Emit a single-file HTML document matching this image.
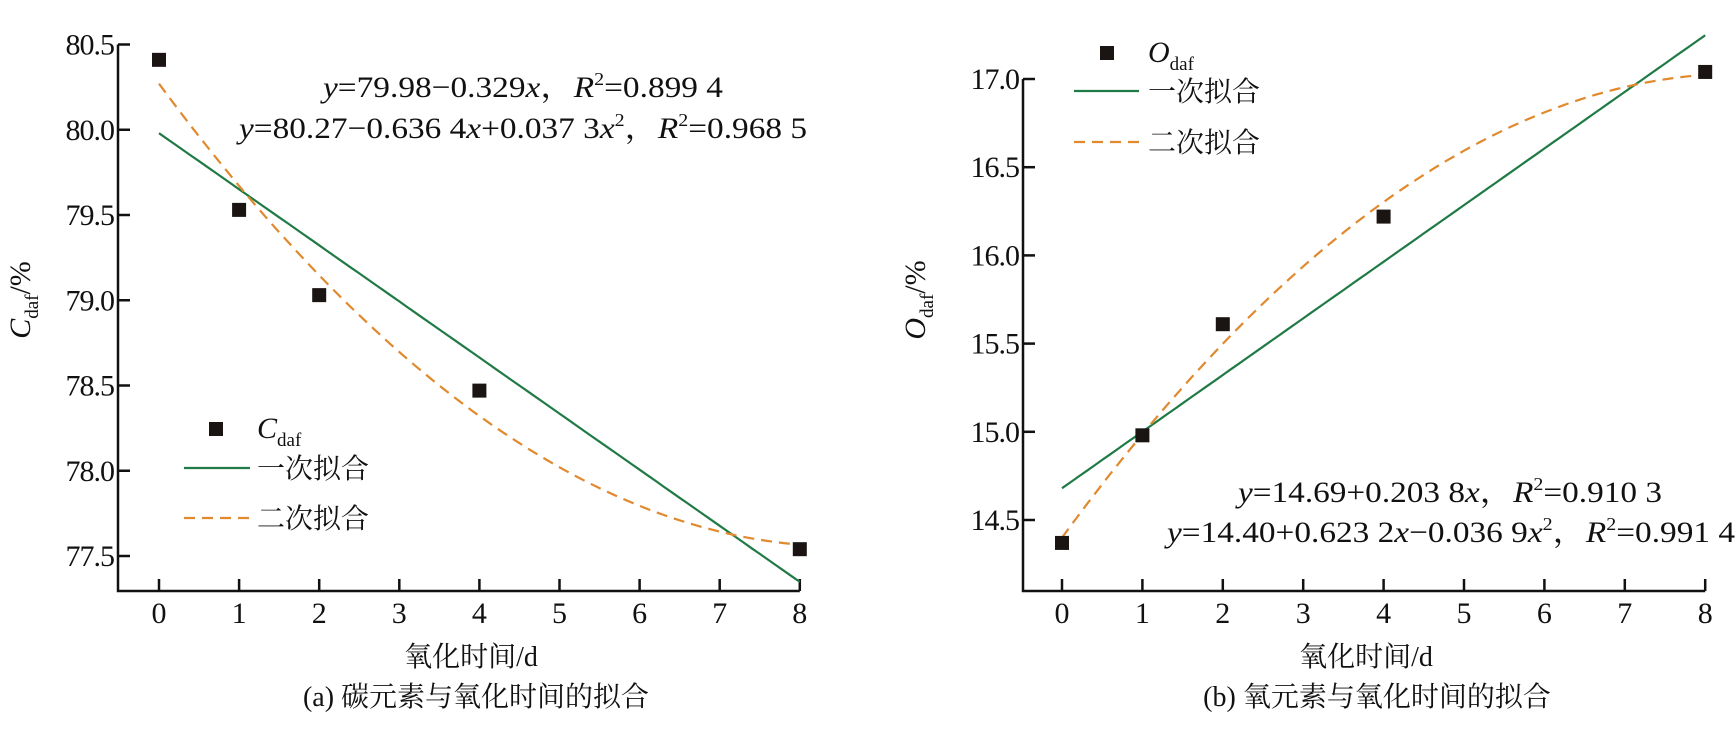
<!DOCTYPE html>
<html><head><meta charset="utf-8"><style>
html,body{margin:0;padding:0;background:#fff;}
svg{display:block;font-family:"Liberation Serif","Noto Serif CJK SC",serif;}
</style></head><body>
<svg id="fig" width="1736" height="741" viewBox="0 0 1736 741" xmlns="http://www.w3.org/2000/svg">
</svg>
<script>
const daysA = [0, 1, 2, 4, 8];
const carbonValues = [80.41, 79.53, 79.03, 78.47, 77.54];
const oxygenValues = [14.37, 14.98, 15.61, 16.22, 17.04];
const carbonLinear = [79.98, -0.329];
const carbonQuad = [80.27, -0.6364, 0.0373];
const oxygenLinear = [14.68, 0.321];
const oxygenQuad = [14.40, 0.6232, -0.0369];
const xTicks = [0, 1, 2, 3, 4, 5, 6, 7, 8];
const carbonYTicks = [77.5, 78.0, 78.5, 79.0, 79.5, 80.0, 80.5];
const oxygenYTicks = [14.5, 15.0, 15.5, 16.0, 16.5, 17.0];

const NS = "http://www.w3.org/2000/svg";
const svg = document.getElementById('fig');
function mk(tag, attrs, parent) {
  const e = document.createElementNS(NS, tag);
  for (const k in attrs) e.setAttribute(k, attrs[k]);
  (parent || svg).appendChild(e);
  return e;
}
const GREEN = '#1f7a45', ORANGE = '#e0892e';

function panel(cfg) {
  const g = mk('g', {});
  
  
  const sx = v => cfg.x0 + v * cfg.xu;
  const sy = v => cfg.yTop + (cfg.yMax - v) / 0.5 * cfg.ystep;
  const ax = mk('path', {d: `M${cfg.axX},${sy(cfg.yMax)} V${cfg.axY} H${sx(8)}`, fill: 'none', stroke: '#111', 'stroke-width': 2.5}, g);
  
  
  cfg.yTicks.forEach(t => {
    const y = sy(t);
    const tl = mk('line', {x1: cfg.axX, x2: cfg.axX + 12, y1: y, y2: y, stroke: '#111', 'stroke-width': 2.5}, g);
    
    
    const tx = mk('text', {x: cfg.axX - 4, y: y + 10, 'font-size': 30, 'text-anchor': 'end', fill: '#111', 'letter-spacing': '-1'}, g);
    tx.textContent = t.toFixed(1);
    
    
  });
  xTicks.forEach(t => {
    const x = sx(t);
    const tl = mk('line', {x1: x, x2: x, y1: cfg.axY, y2: cfg.axY - 12, stroke: '#111', 'stroke-width': 2.5}, g);
    
    
    const tx = mk('text', {x: x, y: cfg.axY + 32, 'font-size': 30, 'text-anchor': 'middle', fill: '#111'}, g);
    tx.textContent = String(t);
    
    
  });
  let dl = '', dq = '';
  for (let i = 0; i <= 80; i++) {
    const v = i / 10;
    dl += (i ? 'L' : 'M') + sx(v).toFixed(1) + ',' + sy(cfg.lin[0] + cfg.lin[1] * v).toFixed(1);
    dq += (i ? 'L' : 'M') + sx(v).toFixed(1) + ',' + sy(cfg.quad[0] + cfg.quad[1] * v + cfg.quad[2] * v * v).toFixed(1);
  }
  const pl = mk('path', {d: dl, fill: 'none', stroke: GREEN, 'stroke-width': 2.2}, g);
  
  
  const pq = mk('path', {d: dq, fill: 'none', stroke: ORANGE, 'stroke-width': 2.2, 'stroke-dasharray': '11 7'}, g);
  
  
  daysA.forEach((d, i) => {
    const r = mk('rect', {x: sx(d) - 7, y: sy(cfg.vals[i]) - 7, width: 14, height: 14, fill: '#1a1412'}, g);
    
    
  });
  const L = cfg.leg;
  const lm = mk('rect', {x: L.mx - 7, y: L.y1 - 7, width: 14, height: 14, fill: '#1a1412'}, g);
  
  
  const lt = mk('text', {x: L.tx, y: L.y1 + 9, 'font-size': 30, fill: '#111'}, g);
  lt.innerHTML = `<tspan font-style="italic">${cfg.sym}</tspan><tspan font-size="19" dy="8">daf</tspan>`;
  
  
  const ll = mk('line', {x1: L.lx1, x2: L.lx2, y1: L.y2, y2: L.y2, stroke: GREEN, 'stroke-width': 2.2}, g);
  
  
  const lt2 = mk('text', {x: L.tx, y: L.y2 + 10, 'font-size': 28, fill: '#111'}, g);
  lt2.textContent = '一次拟合';
  
  
  const lq = mk('line', {x1: L.lx1, x2: L.lx2, y1: L.y3, y2: L.y3, stroke: ORANGE, 'stroke-width': 2.2, 'stroke-dasharray': '11 7'}, g);
  
  
  const lt3 = mk('text', {x: L.tx, y: L.y3 + 10, 'font-size': 28, fill: '#111'}, g);
  lt3.textContent = '二次拟合';
  
  
  cfg.eqs.forEach((e, i) => {
    const t = mk('text', {x: e.x, y: e.y, 'font-size': 30, fill: '#111', textLength: e.w, lengthAdjust: 'spacingAndGlyphs'}, g);
    t.innerHTML = e.html;
    
    
  });
  const yt = mk('text', {transform: `translate(${cfg.ytX},${cfg.ytY}) rotate(-90)`, 'font-size': 30, 'text-anchor': 'middle', fill: '#111'}, g);
  yt.innerHTML = `<tspan font-style="italic">${cfg.sym}</tspan><tspan font-size="19" dy="8">daf</tspan><tspan dy="-8">/%</tspan>`;
  
  
  const xt = mk('text', {x: cfg.xtX, y: 666, 'font-size': 28, 'text-anchor': 'middle', fill: '#111'}, g);
  xt.textContent = '氧化时间/d';
  
  
  const cp = mk('text', {x: cfg.capX, y: 706, 'font-size': 28, 'text-anchor': 'middle', fill: '#111'}, g);
  cp.textContent = cfg.caption;
  
  
}

const sup = '<tspan font-size="18" dy="-12">2</tspan><tspan dy="12">';
panel({
  name: 'carbon-chart', x0: 159, xu: 80.1, axX: 118, axY: 591, yTop: 44.5, yMax: 80.5, ystep: 85.25,
  yTicks: carbonYTicks, vals: carbonValues, lin: carbonLinear, quad: carbonQuad, sym: 'C',
  leg: {mx: 216, tx: 257, y1: 429, y2: 468, y3: 518, lx1: 184, lx2: 250},
  eqs: [
    {x: 323, y: 97, w: 400, html: '<tspan font-style="italic">y</tspan>=79.98−0.329<tspan font-style="italic">x</tspan>，<tspan font-style="italic">R</tspan>' + sup + '=0.899 4</tspan>'},
    {x: 239, y: 138, w: 568, html: '<tspan font-style="italic">y</tspan>=80.27−0.636 4<tspan font-style="italic">x</tspan>+0.037 3<tspan font-style="italic">x</tspan>' + sup + '，</tspan><tspan font-style="italic">R</tspan>' + sup + '=0.968 5</tspan>'}
  ],
  ytX: 30, ytY: 300, xtX: 471, capX: 476, caption: '(a) 碳元素与氧化时间的拟合'
});
panel({
  name: 'oxygen-chart', x0: 1062, xu: 80.4, axX: 1023, axY: 591, yTop: 79, yMax: 17.0, ystep: 88.2,
  yTicks: oxygenYTicks, vals: oxygenValues, lin: oxygenLinear, quad: oxygenQuad, sym: 'O',
  leg: {mx: 1107, tx: 1148, y1: 53, y2: 91, y3: 142, lx1: 1074, lx2: 1139},
  eqs: [
    {x: 1238, y: 502, w: 424, html: '<tspan font-style="italic">y</tspan>=14.69+0.203 8<tspan font-style="italic">x</tspan>，<tspan font-style="italic">R</tspan>' + sup + '=0.910 3</tspan>'},
    {x: 1167, y: 542, w: 568, html: '<tspan font-style="italic">y</tspan>=14.40+0.623 2<tspan font-style="italic">x</tspan>−0.036 9<tspan font-style="italic">x</tspan>' + sup + '，</tspan><tspan font-style="italic">R</tspan>' + sup + '=0.991 4</tspan>'}
  ],
  ytX: 925, ytY: 300, xtX: 1366, capX: 1377, caption: '(b) 氧元素与氧化时间的拟合'
});
</script>
</body></html>
